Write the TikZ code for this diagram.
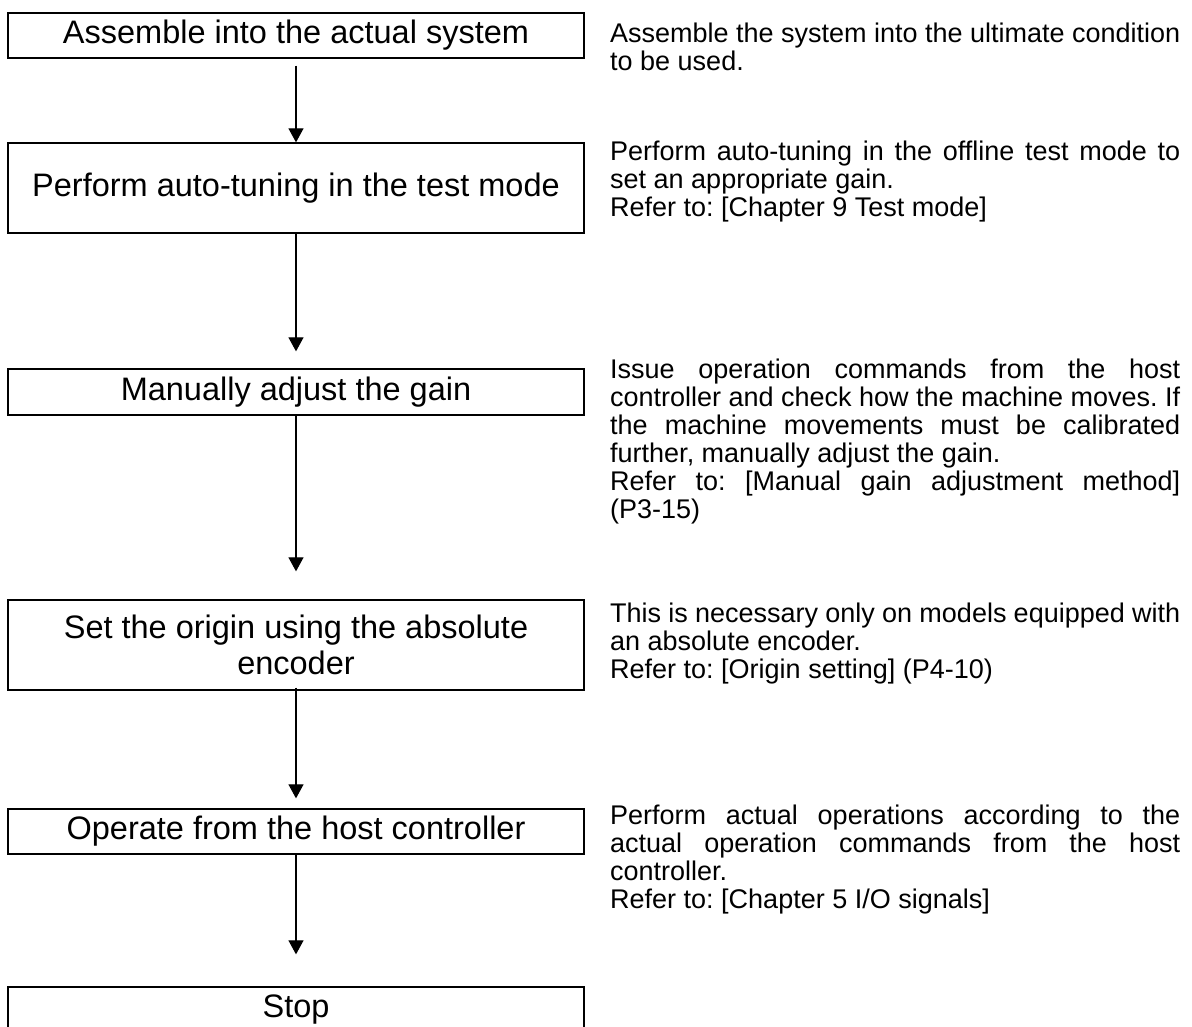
\documentclass[tikz,border=0pt]{standalone}
\usepackage{fontspec}
\setmainfont{Liberation Sans}
\usetikzlibrary{arrows.meta}
\newcommand\jl[1]{\hbox to 570pt{#1}}
\frenchspacing
\begin{document}
\begin{tikzpicture}[x=1pt,y=-1pt,
  stepbox/.style={draw,line width=1.3pt,minimum width=576pt,inner sep=0pt,align=center,
    font=\fontsize{32.5}{36}\selectfont},
  note/.style={anchor=base west,inner sep=0pt,align=left,font=\fontsize{27}{28}\selectfont\frenchspacing},
  arr/.style={line width=1.1pt,-{Triangle[length=14pt,width=15pt]}}]
\useasboundingbox (0,0) rectangle (1192,1027);
\clip (0,0) rectangle (1192,1027);
\node[stepbox,minimum height=45pt] (b1) at (296,35.5) {Assemble into the actual system};
\node[stepbox,minimum height=90pt] (b2) at (296,188) {Perform auto-tuning in the test mode};
\node[stepbox,minimum height=46pt] (b3) at (296,392) {Manually adjust the gain};
\node[stepbox,minimum height=90pt] (b4) at (296,645) {Set the origin using the absolute\\encoder};
\node[stepbox,minimum height=45pt] (b5) at (296,831.5) {Operate from the host controller};
\node[stepbox,minimum height=46pt] (b6) at (296,1010) {Stop};
\draw[arr] ([yshift=-7pt]b1.south) -- (b2.north);
\draw[arr] (b2.south) -- ([yshift=17pt]b3.north);
\draw[arr] (b3.south) -- ([yshift=28pt]b4.north);
\draw[arr] ([yshift=3pt]b4.south) -- ([yshift=10pt]b5.north);
\draw[arr] (b5.south) -- ([yshift=32pt]b6.north);
\node[note] (t1) at (610,71) {\jl{Assemble the system into the ultimate condition}\\to be used.};
\node[note] (t2) at (610,217) {\jl{Perform auto-tuning in the offline test mode to}\\set an appropriate gain.\\Refer to: [Chapter 9 Test mode]};
\node[note] (t3) at (610,518) {\jl{Issue operation commands from the host}\\\jl{controller and check how the machine moves. If}\\\jl{the machine movements must be calibrated}\\further, manually adjust the gain.\\\jl{Refer to: [Manual gain adjustment method]}\\(P3-15)};
\node[note] (t4) at (610,678) {\jl{This is necessary only on models equipped with}\\an absolute encoder.\\Refer to: [Origin setting] (P4-10)};
\node[note] (t5) at (610,908) {\jl{Perform actual operations according to the}\\\jl{actual operation commands from the host}\\controller.\\Refer to: [Chapter 5 I/O signals]};
\end{tikzpicture}
\end{document}
